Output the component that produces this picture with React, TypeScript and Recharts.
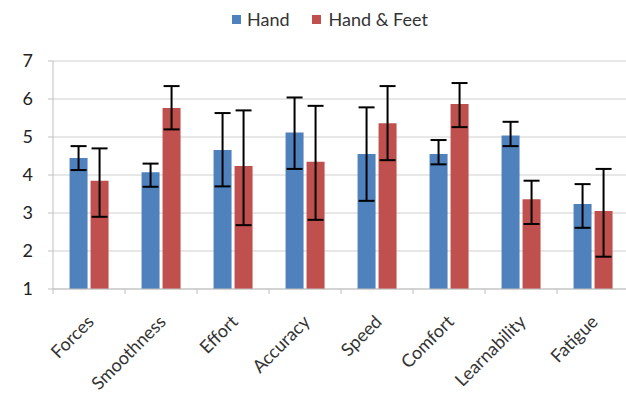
import { Bar, BarChart, CartesianGrid, ErrorBar, XAxis, YAxis } from "recharts";

const categories = ["Forces", "Smoothness", "Effort", "Accuracy", "Speed", "Comfort", "Learnability", "Fatigue"];
// mean score per category
const hand = [4.45, 4.07, 4.66, 5.12, 4.55, 4.55, 5.04, 3.24];
const handFeet = [3.85, 5.76, 4.24, 4.35, 5.36, 5.87, 3.36, 3.05];
// error bar ends (lower / upper)
const handLow = [4.13, 3.69, 3.7, 4.16, 3.32, 4.28, 4.76, 2.61];
const handHigh = [4.76, 4.3, 5.63, 6.04, 5.78, 4.92, 5.4, 3.76];
const handFeetLow = [2.9, 5.2, 2.68, 2.82, 4.39, 5.26, 2.71, 1.85];
const handFeetHigh = [4.7, 6.34, 5.7, 5.82, 6.34, 6.42, 3.85, 4.16];
const yTicks = [1, 2, 3, 4, 5, 6, 7];

const BLUE = "#4F81BD";
const RED = "#C0504D";
const FONT = "Lato, 'Open Sans', sans-serif";

const CHART_W = 640;
const CHART_H = 393;
const Y_AXIS_W = 53;
const RIGHT = 11;
const BAND = (CHART_W - Y_AXIS_W - RIGHT) / categories.length;

const data = categories.map((name, i) => ({
  name,
  hand: hand[i],
  handFeet: handFeet[i],
  handErr: [hand[i] - handLow[i], handHigh[i] - hand[i]],
  handFeetErr: [handFeet[i] - handFeetLow[i], handFeetHigh[i] - handFeet[i]],
}));

function CategoryTick(props: any) {
  const { x, y, payload } = props;
  return (
    <g>
      <line x1={x - BAND / 2} y1={y} x2={x - BAND / 2} y2={y + 5} stroke="#bfbfbf" />
      <g transform={`translate(${x + 6},${y + 34})`}>
        <text
          x={0}
          y={0}
          transform="rotate(-45)"
          textAnchor="end"
          fontSize={18}
          fontFamily={FONT}
          fill="#333"
        >
          {payload.value}
        </text>
      </g>
    </g>
  );
}

function LegendItem({ color, label, gap }: { color: string; label: string; gap: number }) {
  return (
    <div style={{ display: "flex", alignItems: "center", marginRight: 22 }}>
      <div style={{ width: 9, height: 9, background: color, marginRight: gap }} />
      <span>{label}</span>
    </div>
  );
}

export default function App() {
  return (
    <div
      style={{
        position: "absolute",
        top: 0,
        left: 0,
        width: 626,
        height: CHART_H,
        overflow: "hidden",
        background: "#fff",
      }}
    >
      <div
        style={{
          position: "absolute",
          top: 7,
          left: 232,
          display: "flex",
          fontFamily: FONT,
          fontSize: 18,
          lineHeight: "24px",
          color: "#333",
        }}
      >
        <LegendItem color={BLUE} label="Hand" gap={6} />
        <LegendItem color={RED} label="Hand & Feet" gap={8} />
      </div>
      <BarChart
        width={CHART_W}
        height={CHART_H}
        data={data}
        margin={{ top: 61, right: RIGHT, left: 0, bottom: 0 }}
        barCategoryGap="23%"
        barGap={3}
      >
        <CartesianGrid stroke="#d0d0d0" vertical={false} />
        <XAxis
          dataKey="name"
          height={104}
          axisLine={{ stroke: "#bfbfbf" }}
          tickLine={false}
          tickSize={0}
          tickMargin={0}
          interval={0}
          tick={<CategoryTick />}
        />
        <YAxis
          width={Y_AXIS_W}
          domain={[1, 7]}
          ticks={yTicks}
          allowDataOverflow
          axisLine={{ stroke: "#bfbfbf" }}
          tickLine={{ stroke: "#bfbfbf" }}
          tickSize={5}
          tickMargin={15}
          tick={{ fontSize: 18, fontFamily: FONT, fill: "#222" }}
        />
        <Bar dataKey="hand" fill={BLUE} isAnimationActive={false}>
          <ErrorBar dataKey="handErr" width={8} stroke="#000" strokeWidth={2} />
        </Bar>
        <Bar dataKey="handFeet" fill={RED} isAnimationActive={false}>
          <ErrorBar dataKey="handFeetErr" width={8} stroke="#000" strokeWidth={2} />
        </Bar>
      </BarChart>
    </div>
  );
}
